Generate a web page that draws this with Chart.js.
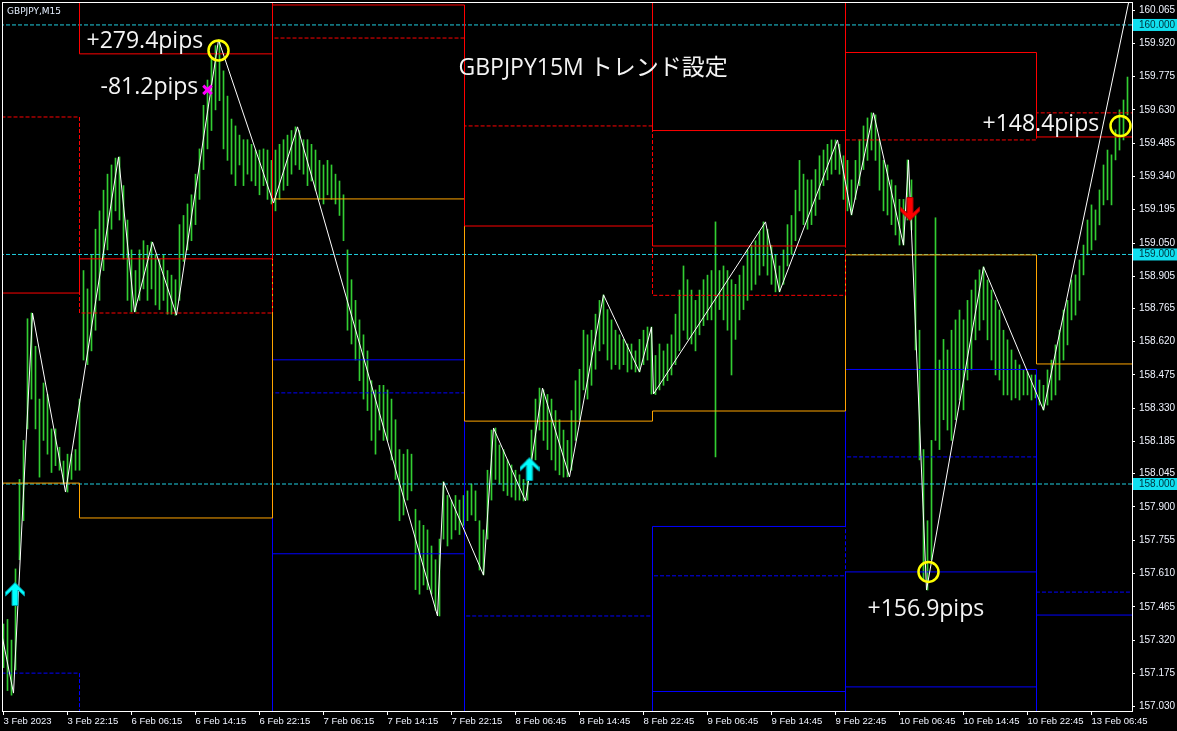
<!DOCTYPE html>
<html>
<head>
<meta charset="utf-8">
<title>GBPJPY M15</title>
<script src="https://cdn.jsdelivr.net/npm/chart.js@4.4.1/dist/chart.umd.min.js"></script>
<style>
	html, body { margin: 0; padding: 0; background: #000; }
	canvas { display: block; }
</style>
</head>
<body>
<canvas id="chart" width="1177" height="731"></canvas>
<script>
// M15 bar ranges, every second bar (bar number = position * 2)
const barLow = [
	157.20, 157.10, 157.08, 157.19, 157.67, 157.84, 158.24, 158.37, 158.24, 158.03,
	158.19, 158.13, 158.05, 158.08, 158.06, 158.00, 157.965, 158.02, 158.06, 158.06,
	158.54, 158.52, 158.58, 158.67, 158.80, 158.93, 159.02, 159.11, 159.19, 159.15,
	158.98, 158.80, 158.75, 158.75, 158.80, 158.85, 158.80, 158.85, 158.78, 158.76,
	158.80, 158.74, 158.74, 158.735, 158.80, 158.97, 159.02, 159.06, 159.13, 159.24,
	159.37, 159.46, 159.54, 159.63, 159.67, 159.46, 159.41, 159.35, 159.30, 159.39,
	159.30, 159.35, 159.32, 159.30, 159.26, 159.30, 159.24, 159.22, 159.19, 159.24,
	159.28, 159.30, 159.35, 159.39, 159.37, 159.35, 159.30, 159.32, 159.28, 159.24,
	159.22, 159.26, 159.24, 159.22, 159.17, 159.06, 158.67, 158.61, 158.54, 158.45,
	158.37, 158.32, 158.19, 158.13, 158.235, 158.19, 158.19, 158.105, 158.02, 157.84,
	157.865, 157.93, 157.97, 157.54, 157.52, 157.56, 157.54, 157.52, 157.45, 157.425,
	157.76, 157.73, 157.76, 157.80, 157.78, 157.82, 157.84, 157.865, 157.84, 157.625,
	157.604, 157.76, 157.93, 158.02, 158.00, 157.97, 157.95, 157.943, 157.93, 157.93,
	157.926, 157.93, 158.02, 158.105, 158.235, 158.19, 158.15, 158.105, 158.06, 158.04,
	158.03, 158.031, 158.06, 158.19, 158.28, 158.41, 158.37, 158.43, 158.50, 158.58,
	158.61, 158.54, 158.50, 158.52, 158.50, 158.52, 158.488, 158.50, 158.488, 158.488,
	158.52, 158.54, 158.392, 158.39, 158.41, 158.43, 158.45, 158.475, 158.52, 158.58,
	158.67, 158.63, 158.61, 158.58, 158.65, 158.69, 158.715, 158.715, 158.118, 158.76,
	158.715, 158.67, 158.475, 158.63, 158.715, 158.76, 158.80, 158.845, 158.87, 158.91,
	158.95, 158.91, 158.87, 158.837, 158.837, 158.87, 158.95, 159.00, 159.06, 159.19,
	159.13, 159.11, 159.13, 159.17, 159.24, 159.30, 159.325, 159.35, 159.37, 159.35,
	159.24, 159.19, 159.172, 159.24, 159.30, 159.37, 159.41, 159.455, 159.41, 159.28,
	159.19, 159.172, 159.13, 159.085, 159.041, 159.041, 159.15, 159.107, 158.584, 158.105,
	157.58, 157.538, 157.67, 158.19, 158.15, 158.28, 158.235, 158.19, 158.28, 158.366,
	158.323, 158.453, 158.497, 158.628, 158.67, 158.715, 158.628, 158.54, 158.475, 158.453,
	158.388, 158.388, 158.366, 158.375, 158.366, 158.388, 158.388, 158.366, 158.375, 158.344,
	158.322, 158.344, 158.366, 158.388, 158.453, 158.54, 158.606, 158.715, 158.736, 158.80,
	158.911, 158.998, 159.02, 159.063, 159.129, 159.216, 159.238, 159.216, 159.412, 159.455,
	159.499, 159.608
];
const barHigh = [
	157.39, 157.41, 157.32, 157.63, 158.02, 158.19, 158.72, 158.745, 158.60, 158.37,
	158.44, 158.39, 158.24, 158.24, 158.16, 158.10, 158.13, 158.13, 158.15, 158.37,
	158.93, 158.85, 159.00, 159.11, 159.19, 159.28, 159.35, 159.39, 159.42, 159.425,
	159.30, 159.15, 159.02, 158.93, 159.02, 159.06, 159.04, 159.055, 159.00, 158.98,
	159.00, 158.93, 158.91, 158.89, 159.13, 159.17, 159.22, 159.26, 159.35, 159.46,
	159.65, 159.76, 159.85, 159.91, 159.935, 159.80, 159.69, 159.59, 159.56, 159.52,
	159.50, 159.50, 159.48, 159.455, 159.455, 159.46, 159.455, 159.41, 159.455, 159.48,
	159.50, 159.52, 159.54, 159.556, 159.54, 159.50, 159.50, 159.48, 159.455, 159.41,
	159.39, 159.41, 159.39, 159.35, 159.32, 159.26, 159.02, 158.89, 158.80, 158.715,
	158.65, 158.58, 158.45, 158.41, 158.43, 158.43, 158.41, 158.37, 158.28, 158.15,
	158.13, 158.15, 158.13, 157.89, 157.84, 157.82, 157.80, 157.73, 157.67, 157.76,
	158.01, 157.95, 157.93, 157.95, 157.93, 157.95, 157.97, 158.00, 157.97, 157.84,
	157.80, 158.06, 158.235, 158.244, 158.17, 158.15, 158.105, 158.083, 158.06, 158.04,
	158.02, 158.105, 158.235, 158.37, 158.418, 158.41, 158.39, 158.37, 158.32, 158.28,
	158.235, 158.19, 158.32, 158.45, 158.50, 158.67, 158.65, 158.67, 158.74, 158.80,
	158.824, 158.76, 158.715, 158.67, 158.65, 158.63, 158.61, 158.61, 158.58, 158.63,
	158.67, 158.684, 158.684, 158.56, 158.61, 158.58, 158.61, 158.65, 158.74, 158.845,
	158.95, 158.89, 158.845, 158.80, 158.845, 158.89, 158.91, 158.93, 159.142, 158.93,
	158.95, 158.93, 158.89, 158.87, 158.91, 158.95, 159.02, 159.04, 159.06, 159.10,
	159.142, 159.11, 159.04, 159.00, 158.95, 159.02, 159.13, 159.17, 159.28, 159.41,
	159.35, 159.325, 159.325, 159.37, 159.43, 159.455, 159.48, 159.499, 159.499, 159.48,
	159.43, 159.41, 159.325, 159.41, 159.50, 159.56, 159.595, 159.617, 159.608, 159.50,
	159.41, 159.39, 159.325, 159.30, 159.24, 159.24, 159.412, 159.325, 159.18, 158.67,
	158.15, 157.84, 158.19, 159.16, 158.54, 158.63, 158.584, 158.67, 158.715, 158.758,
	158.715, 158.80, 158.845, 158.889, 158.933, 158.946, 158.889, 158.845, 158.80, 158.758,
	158.67, 158.628, 158.584, 158.54, 158.519, 158.497, 158.488, 158.475, 158.475, 158.453,
	158.43, 158.497, 158.54, 158.606, 158.671, 158.758, 158.80, 158.889, 158.911, 158.976,
	159.041, 159.15, 159.216, 159.194, 159.281, 159.39, 159.455, 159.434, 159.543, 159.63,
	159.673, 159.773
];

// zigzag turning points
const zigzagBar = [-3, 5, 14.5, 31, 57.5, 65.5, 74.5, 86.5, 107.5, 135, 147, 217, 220, 240, 245, 261, 269.5, 283, 300, 318, 324, 325, 381, 388, 417, 424, 435, 450, 452.5, 461.5, 490, 520, 564.5];
const zigzagPrice = [157.438, 157.089, 158.745, 157.965, 159.425, 158.749, 159.054, 158.736, 159.935, 159.224, 159.556, 157.425, 158.009, 157.603, 158.244, 157.926, 158.418, 158.031, 158.824, 158.488, 158.684, 158.392, 159.142, 158.837, 159.499, 159.172, 159.617, 159.041, 159.412, 157.538, 158.946, 158.322, 160.179];

// daily pivot levels: 3 Feb, 6 Feb, 7 Feb, 8 Feb, 9 Feb, 10 Feb, 13 Feb
const dayStartBar = [-1, 38, 134.5, 230.5, 324.5, 421, 516.5];
const levelR2 = [160.427, 159.874, 160.788, 160.409, 159.540, 160.379, 160.611];
const levelR1 = [158.832, 158.981, 160.087, 159.124, 159.037, 159.880, 159.512];
const prevHigh = [159.599, 158.745, 159.943, 159.560, 158.822, 159.499, 159.617];
const pivot = [158.004, 157.852, 159.242, 158.274, 158.318, 158.998, 158.523];
const levelS1 = [156.409, 156.959, 158.541, 156.988, 157.815, 158.499, 157.429];
const prevLow = [157.176, 156.723, 158.397, 157.425, 157.600, 158.118, 157.529];
const levelS2 = [155.581, 155.830, 157.696, 156.139, 157.096, 157.617, 156.435];
const levelS3 = [153.990, 154.937, 156.995, 154.853, 156.592, 157.116, 155.341];

const roundLevels = [160, 159, 158];

const priceTicks = [160.065, 159.920, 159.775, 159.630, 159.485, 159.340, 159.195, 159.050, 158.905, 158.765, 158.620, 158.475, 158.330, 158.185, 158.045, 157.900, 157.755, 157.610, 157.465, 157.320, 157.175, 157.030];
const timeTickBar = [0, 32, 64, 96, 128, 160, 192, 224, 256, 288, 320, 352, 384, 416, 448, 480, 512, 544];
const timeLabels = ['3 Feb 2023', '3 Feb 22:15', '6 Feb 06:15', '6 Feb 14:15', '6 Feb 22:15', '7 Feb 06:15', '7 Feb 14:15', '7 Feb 22:15', '8 Feb 06:45', '8 Feb 14:45', '8 Feb 22:45', '9 Feb 06:45', '9 Feb 14:45', '9 Feb 22:45', '10 Feb 06:45', '10 Feb 14:45', '10 Feb 22:45', '13 Feb 06:45'];

// signals and notes
const buyArrowBar = [5.75, 263];
const buyArrowPrice = [157.521, 158.065];
const sellArrowBar = [453.25];
const sellArrowPrice = [159.198];
const exitBar = [102];
const exitPrice = [159.717];
const circleBar = [107.5, 462.5, 558.5];
const circlePrice = [159.889, 157.617, 159.560];
const noteText = ['+279.4pips', '-81.2pips', '+156.9pips', '+148.4pips', 'GBPJPY15M トレンド設定'];
const noteBar = [41.5, 48.5, 432, 489.5, 227.5];
const notePrice = [159.900, 159.697, 157.425, 159.536, 159.782];

const X_MIN = -0.75;
const X_MAX = 564.25;
const Y_MIN = 157.011;
const Y_MAX = 160.100;

function stepData(values) {
	const pts = dayStartBar.map((b, i) => ({ x: b, y: values[i] }));
	pts.push({ x: X_MAX + 1, y: values[values.length - 1] });
	return pts;
}

function makeArrow(fill, edge, down) {
	const c = document.createElement('canvas');
	c.width = 20;
	c.height = 24;
	const g = c.getContext('2d');
	if (down) {
		g.translate(0, 24);
		g.scale(1, -1);
	}
	g.beginPath();
	g.moveTo(10, 0.5);
	g.lineTo(19.5, 10);
	g.lineTo(19.5, 14);
	g.lineTo(13, 8);
	g.lineTo(13, 23.5);
	g.lineTo(7, 23.5);
	g.lineTo(7, 8);
	g.lineTo(0.5, 14);
	g.lineTo(0.5, 10);
	g.closePath();
	g.fillStyle = fill;
	g.fill();
	g.strokeStyle = edge;
	g.lineWidth = 1;
	g.stroke();
	return c;
}

const upArrow = makeArrow('#00FFFF', '#009AA8', false);
const downArrow = makeArrow('#FF0000', '#B00000', true);

const levelStyles = [
	{ vals: levelR2, color: '#FF0000', dash: [] },
	{ vals: levelR1, color: '#FF0000', dash: [] },
	{ vals: prevHigh, color: '#FF0000', dash: [4, 2] },
	{ vals: pivot, color: '#FFA500', dash: [] },
	{ vals: levelS1, color: '#0000FF', dash: [] },
	{ vals: prevLow, color: '#0000FF', dash: [4, 2] },
	{ vals: levelS2, color: '#0000FF', dash: [] },
	{ vals: levelS3, color: '#0000FF', dash: [] },
];

const datasets = [];

// markers on top
datasets.push({
	data: buyArrowBar.map((b, i) => ({ x: b, y: buyArrowPrice[i] })),
	showLine: false, pointStyle: upArrow, pointRadius: 10, order: 0,
});
datasets.push({
	data: sellArrowBar.map((b, i) => ({ x: b, y: sellArrowPrice[i] })),
	showLine: false, pointStyle: downArrow, pointRadius: 10, order: 0,
});
datasets.push({
	data: exitBar.map((b, i) => ({ x: b, y: exitPrice[i] })),
	showLine: false, pointStyle: 'crossRot', pointRadius: 6,
	pointBorderWidth: 3, pointBorderColor: '#FF00FF', order: 0,
});
datasets.push({
	data: circleBar.map((b, i) => ({ x: b, y: circlePrice[i] })),
	showLine: false, pointStyle: 'circle', pointRadius: 10,
	pointBorderWidth: 2.5, pointBorderColor: '#FFFF00',
	pointBackgroundColor: 'rgba(0,0,0,0)', order: 0,
});

// zigzag
datasets.push({
	data: zigzagBar.map((b, i) => ({ x: b, y: zigzagPrice[i] })),
	borderColor: '#FFFFFF', borderWidth: 1, pointRadius: 0, order: 1,
});

// pivot levels
levelStyles.forEach((s) => {
	datasets.push({
		data: stepData(s.vals),
		stepped: true,
		borderColor: s.color, borderWidth: 1, borderDash: s.dash,
		pointRadius: 0, order: 2,
	});
});

// round number lines
roundLevels.forEach((v) => {
	datasets.push({
		data: [{ x: X_MIN - 1, y: v }, { x: X_MAX + 1, y: v }],
		borderColor: '#20CFE0', borderWidth: 1, borderDash: [4, 2],
		pointRadius: 0, order: 3,
	});
});

// price bars
datasets.push({
	type: 'bar',
	data: barLow.map((lo, i) => ({ x: i * 2, y: [lo, barHigh[i]] })),
	backgroundColor: '#32CD32',
	borderWidth: 0,
	barThickness: 1,
	grouped: false,
	order: 4,
});

const overlay = {
	id: 'overlay',
	beforeDraw(chart) {
		const { ctx, width, height } = chart;
		ctx.save();
		ctx.fillStyle = '#000000';
		ctx.fillRect(0, 0, width, height);
		ctx.restore();
	},
	afterDatasetsDraw(chart) {
		const { ctx, chartArea: a, scales } = chart;
		ctx.save();
		ctx.strokeStyle = '#FFFFFF';
		ctx.lineWidth = 1;
		ctx.strokeRect(Math.floor(a.left) + 0.5, Math.floor(a.top) + 0.5,
			Math.round(a.right - a.left), Math.round(a.bottom - a.top));

		ctx.fillStyle = '#F4F4F4';
		ctx.textAlign = 'left';
		ctx.textBaseline = 'alphabetic';
		ctx.font = "23px 'Open Sans', 'Noto Sans CJK JP', sans-serif";
		noteText.forEach((t, i) => {
			ctx.fillText(t, scales.x.getPixelForValue(noteBar[i]), scales.y.getPixelForValue(notePrice[i]));
		});

		ctx.fillStyle = '#E6F0FF';
		ctx.font = "9px 'DejaVu Sans', sans-serif";
		ctx.fillText('GBPJPY,M15', a.left + 5, a.top + 12);
		ctx.restore();
	},
};

const isRound = (v) => roundLevels.some((r) => Math.abs(r - v) < 1e-6);

const chart = new Chart(document.getElementById('chart'), {
	type: 'line',
	data: { datasets },
	options: {
		responsive: false,
		animation: false,
		events: [],
		devicePixelRatio: 1,
		layout: { autoPadding: false, padding: { left: 2, top: 2, right: 0, bottom: 0 } },
		plugins: {
			legend: { display: false },
			tooltip: { enabled: false },
		},
		scales: {
			x: {
				type: 'linear',
				min: X_MIN,
				max: X_MAX,
				offset: false,
				afterBuildTicks: (s) => {
					s.ticks = timeTickBar.map((v) => ({ value: v }));
				},
				afterFit: (s) => {
					s.height = 20;
					s.paddingLeft = 0;
					s.paddingRight = 0;
				},
				ticks: {
					autoSkip: false,
					maxRotation: 0,
					minRotation: 0,
					align: 'start',
					padding: 1,
					color: '#F0F4FF',
					font: { family: 'Liberation Sans', size: 9.5 },
					callback: (v, i) => timeLabels[i],
				},
				grid: {
					offset: false,
					drawOnChartArea: false,
					drawTicks: true,
					tickLength: 4,
					color: '#FFFFFF',
				},
				border: { display: false },
			},
			y: {
				type: 'linear',
				position: 'right',
				min: Y_MIN,
				max: Y_MAX,
				beginAtZero: false,
				afterBuildTicks: (s) => {
					s.ticks = priceTicks.concat(roundLevels).map((v) => ({ value: v }));
				},
				afterFit: (s) => {
					s.width = 45;
					s.paddingTop = 0;
					s.paddingBottom = 0;
				},
				ticks: {
					autoSkip: false,
					padding: 4,
					font: { family: 'Liberation Sans', size: 10 },
					color: (c) => (isRound(c.tick.value) ? '#00303A' : '#F0F4FF'),
					showLabelBackdrop: (c) => isRound(c.tick.value),
					backdropColor: '#10E0F0',
					backdropPadding: { top: 0, bottom: 0, left: 6, right: 4 },
					callback: (v) => Number(v).toFixed(3),
				},
				grid: {
					drawOnChartArea: false,
					drawTicks: true,
					tickLength: 3,
					color: '#FFFFFF',
				},
				border: { display: false },
			},
		},
	},
	plugins: [overlay],
});
</script>
</body>
</html>
